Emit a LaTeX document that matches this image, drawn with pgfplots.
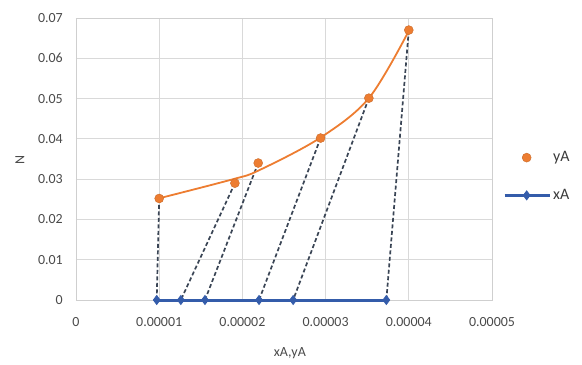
\documentclass[border=0pt]{standalone}
\usepackage{pgfplots}
\pgfplotsset{compat=1.18}
\usepackage{fontspec}
\setmainfont{Carlito}
\definecolor{orng}{HTML}{ED7D31}
\definecolor{blu}{RGB}{52,92,170}
\definecolor{dsh}{HTML}{3A4555}
\definecolor{txt}{HTML}{4A4A4A}
\begin{document}
\begin{tikzpicture}
\useasboundingbox (-76bp,-65bp) rectangle (506bp,300bp);
\begin{axis}[
  scale only axis, width=416bp, height=282bp,
  xmin=0, xmax=0.00005, ymin=0, ymax=0.07,
  xtick={0,0.00001,0.00002,0.00003,0.00004,0.00005},
  xticklabels={0,0.00001,0.00002,0.00003,0.00004,0.00005},
  ytick={0,0.01,0.02,0.03,0.04,0.05,0.06,0.07},
  yticklabels={0,0.01,0.02,0.03,0.04,0.05,0.06,0.07},
  scaled x ticks=false, scaled y ticks=false,
  major tick length=0pt,
  grid=major,
  major grid style={gray!30, line width=0.8bp},
  axis line style={gray!38, line width=0.8bp},
  tick label style={font=\fontsize{14}{16}\selectfont, text=txt},
  xticklabel style={anchor=north, inner sep=0pt, yshift=-17bp},
  yticklabel style={anchor=east, inner sep=0pt, xshift=-13bp},
  xlabel={xA,yA}, ylabel={N},
  label style={font=\fontsize{14}{16}\selectfont, text=txt},
  xlabel style={at={(axis description cs:0.514,-0.19)}, anchor=center},
  ylabel style={at={(axis description cs:-0.135,0.496)}, anchor=center},
  clip=false,
  legend style={at={(axis description cs:1.0264,0.438)}, anchor=west,
    draw=none, fill=none, inner sep=0pt, row sep=22bp,
    font=\fontsize{16}{18}\selectfont, text=txt!80!black,
    nodes={inner sep=2bp}},
  legend cell align=left,
  legend image code/.code={\draw[mark repeat=2,mark phase=2] plot coordinates {(0bp,0bp) (22bp,0bp) (45bp,0bp)};},
]
% tie lines
\addplot[dsh, line width=1.7bp, dash pattern=on 4bp off 2.5bp, forget plot] coordinates {(0.0000100,0.0252) (0.0000097,0)};
\addplot[dsh, line width=1.7bp, dash pattern=on 4bp off 2.5bp, forget plot] coordinates {(0.0000191,0.0290) (0.0000126,0)};
\addplot[dsh, line width=1.7bp, dash pattern=on 4bp off 2.5bp, forget plot] coordinates {(0.0000219,0.0340) (0.0000155,0)};
\addplot[dsh, line width=1.7bp, dash pattern=on 4bp off 2.5bp, forget plot] coordinates {(0.0000294,0.0402) (0.0000220,0)};
\addplot[dsh, line width=1.7bp, dash pattern=on 4bp off 2.5bp, forget plot] coordinates {(0.0000352,0.0501) (0.0000261,0)};
\addplot[dsh, line width=1.7bp, dash pattern=on 4bp off 2.5bp, forget plot] coordinates {(0.0000400,0.0670) (0.0000373,0)};
% trend curve
\addplot[orng, line width=1.8bp, smooth, tension=0.55, forget plot] coordinates {
 (0.0000101,0.0253) (0.0000189,0.0300) (0.0000220,0.0322)
 (0.0000293,0.0402) (0.0000352,0.0501) (0.0000400,0.0668)};
% yA points
\addplot[only marks, mark=*, mark size=4.5bp, color=orng, mark options={fill=orng, draw=orng!85!black}] coordinates {
 (0.0000100,0.0252) (0.0000191,0.0290) (0.0000219,0.0340) (0.0000294,0.0402) (0.0000352,0.0501) (0.0000400,0.0670)};
\addlegendentry{yA}
% xA points
\addplot[blu, line width=3bp, mark=diamond*, mark size=4.5bp, mark options={fill=blu, line width=0.8bp}] coordinates {
 (0.0000097,0) (0.0000126,0) (0.0000155,0) (0.0000220,0) (0.0000261,0) (0.0000373,0)};
\addlegendentry{xA}
\end{axis}
\end{tikzpicture}
\end{document}
